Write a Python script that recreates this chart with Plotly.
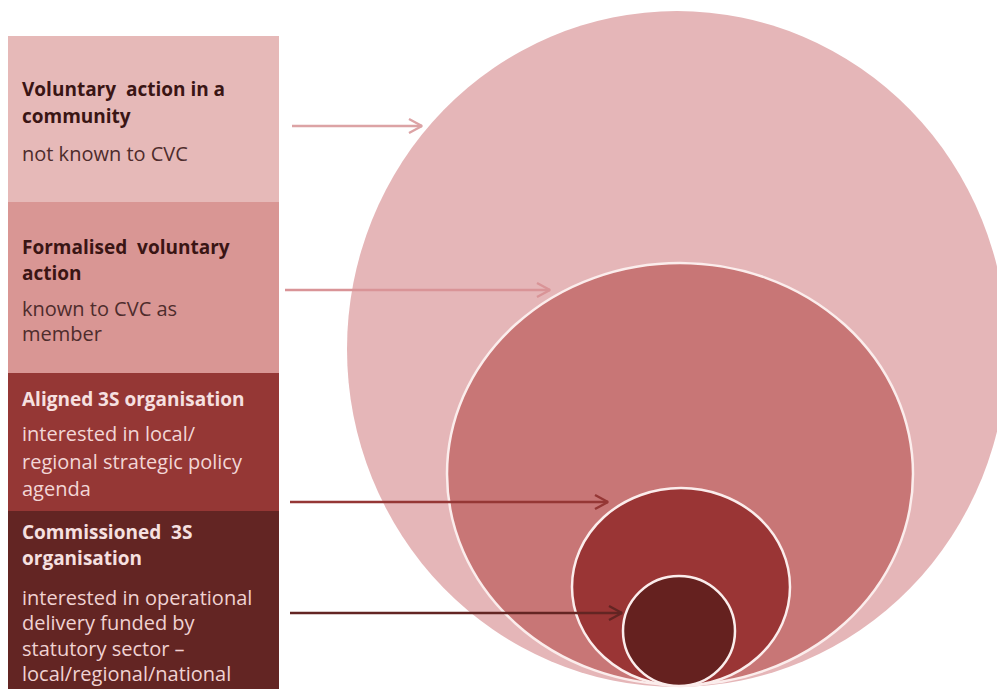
import plotly.graph_objects as go

W, H = 1005, 689
OFF = 8  # page body margin in the browser

# ---- content ----
titles = [
    ["Voluntary  action in a", "community"],
    ["Formalised  voluntary", "action"],
    ["Aligned 3S organisation"],
    ["Commissioned  3S", "organisation"],
]
subtitles = [
    ["not known to CVC"],
    ["known to CVC as", "member"],
    ["interested in local/", "regional strategic policy", "agenda"],
    ["interested in operational", "delivery funded by", "statutory sector \u2013", "local/regional/national"],
]

# ---- geometry (pixel space) ----
box_x = [8, 279]
box_y = [36, 202, 373, 511, 689]
title_y = [[89, 116], [247, 273], [399], [532, 558]]
sub_y = [[153], [308, 333], [433, 461, 488], [597, 622, 648, 673]]
text_x = 20

box_colors = ["#E6B9B8", "#D99694", "#953735", "#632523"]
title_colors = ["#3A1514", "#3A1514", "#F6E0E0", "#F6E0E0"]
sub_colors = ["#4E2C2C", "#4E2C2C", "#F2D6D6", "#F0D2D2"]

# ellipses: cx, cy, rx, ry
ell_cx = [677, 680, 681, 679]
ell_cy = [349, 474, 587, 631]
ell_rx = [330, 233, 109, 56]
ell_ry = [338, 211, 99, 55]
ell_colors = ["#E5B6B8", "#C87676", "#9A3535", "#65211F"]
ell_border = [None, "#FBEDEC", "#FBEDEC", "#FBEDEC"]

# arrows: start x, end x, y
arr_x0 = [292, 285, 290, 290]
arr_x1 = [422, 550, 608, 622]
arr_y = [126, 290, 502, 613]
arr_colors = ["#DCA3A5", "#D99497", "#953735", "#632523"]

fig = go.Figure()
shapes = []
for i, c in enumerate(box_colors):
    shapes.append(dict(type="rect", xref="x", yref="y", x0=box_x[0], x1=box_x[1],
                       y0=box_y[i], y1=box_y[i + 1], fillcolor=c, line=dict(width=0), layer="below"))
for i, c in enumerate(ell_colors):
    ln = dict(width=0) if ell_border[i] is None else dict(width=2.5, color=ell_border[i])
    shapes.append(dict(type="circle", xref="x", yref="y",
                       x0=ell_cx[i] - ell_rx[i], x1=ell_cx[i] + ell_rx[i],
                       y0=ell_cy[i] - ell_ry[i], y1=ell_cy[i] + ell_ry[i],
                       fillcolor=c, line=ln, layer="below"))

for i in range(4):
    x0, x1, y = arr_x0[i], arr_x1[i], arr_y[i]
    xs = [x0, x1, None, x1 - 13, x1, x1 - 13]
    ys = [y, y, None, y - 7, y, y + 7]
    fig.add_trace(go.Scatter(x=xs, y=ys, mode="lines", line=dict(color=arr_colors[i], width=2.4),
                             hoverinfo="skip", showlegend=False))

annotations = []
FONT = "'Open Sans', Lato, sans-serif"
FS = 20
for i in range(4):
    for t, y in zip(titles[i], title_y[i]):
        annotations.append(dict(x=text_x, y=y, xref="x", yref="y", text="<b>" + t.replace("  ", "\u00a0 ") + "</b>",
                                showarrow=False, xanchor="left", yanchor="middle",
                                font=dict(family=FONT, size=FS - 1, color=title_colors[i])))
    for t, y in zip(subtitles[i], sub_y[i]):
        annotations.append(dict(x=text_x, y=y, xref="x", yref="y", text=t,
                                showarrow=False, xanchor="left", yanchor="middle",
                                font=dict(family=FONT, size=FS, color=sub_colors[i])))

fig.update_layout(
    width=W, height=H, margin=dict(l=0, r=0, t=0, b=0),
    paper_bgcolor="white", plot_bgcolor="white",
    xaxis=dict(range=[OFF, W + OFF], visible=False, fixedrange=True),
    yaxis=dict(range=[H + OFF, OFF], visible=False, fixedrange=True),
    shapes=shapes, annotations=annotations, showlegend=False,
)
fig.write_html("out.html", config={"displayModeBar": False})
